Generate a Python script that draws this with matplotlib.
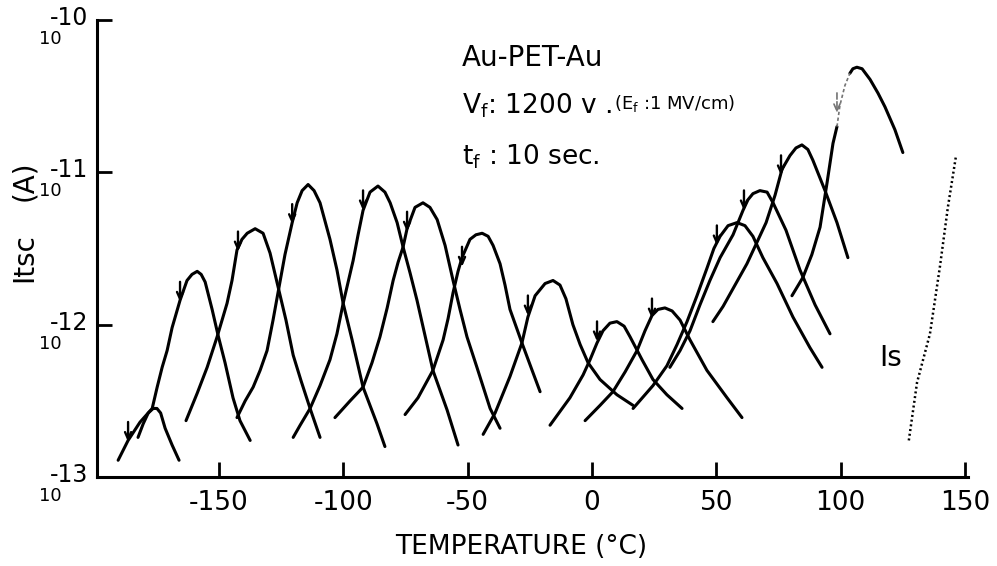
import matplotlib
matplotlib.use('Agg')
import matplotlib.pyplot as plt
import numpy as np
from matplotlib.ticker import NullLocator

# TSC peaks, Au-PET-Au, temperature (degC) and log10 of Itsc (A)
T_1 = [-182.6, -180.5, -178.5, -176.5, -175.0, -173.5, -171.7, -168.9, -166.1]
L_1 = [-12.74, -12.65, -12.58, -12.55, -12.55, -12.58, -12.68, -12.79, -12.89]

T_2 = [-190.6, -186.6, -181.8, -176.9, -174.9, -172.9, -170.9, -168.9, -165.7, -162.9,
       -160.9, -158.8, -157.2, -155.6, -152.8, -150.4, -147.6, -144.4, -141.6, -137.5]
L_2 = [-12.89, -12.76, -12.64, -12.55, -12.41, -12.28, -12.17, -12.02, -11.84, -11.71,
       -11.67, -11.65, -11.67, -11.72, -11.90, -12.07, -12.25, -12.48, -12.63, -12.76]

T_3 = [-163.3, -158.8, -154.8, -150.8, -146.8, -144.8, -142.8, -140.8, -138.7, -135.5,
       -132.3, -129.5, -126.3, -123.1, -120.2, -117.0, -113.4, -109.4]
L_3 = [-12.63, -12.45, -12.28, -12.08, -11.86, -11.71, -11.51, -11.44, -11.40, -11.37,
       -11.40, -11.53, -11.75, -11.97, -12.20, -12.37, -12.55, -12.74]

T_4 = [-142.8, -139.5, -136.3, -133.5, -130.7, -128.3, -126.3, -123.5, -120.6, -118.6, -116.6,
       -114.2, -111.8, -109.4, -105.4, -102.6, -100.1, -96.5, -92.1, -86.5, -83.3]
L_4 = [-12.61, -12.50, -12.41, -12.30, -12.17, -11.97, -11.79, -11.54, -11.33, -11.20, -11.12,
       -11.08, -11.12, -11.20, -11.44, -11.64, -11.86, -12.10, -12.41, -12.65, -12.80]

T_5 = [-120.2, -117.4, -113.4, -109.4, -105.4, -102.6, -100.1, -96.1, -94.1, -92.1, -89.3,
       -86.1, -83.3, -81.2, -78.4, -76.0, -73.2, -70.4, -67.2, -64.0, -58.3, -53.9]
L_5 = [-12.74, -12.66, -12.55, -12.40, -12.23, -12.06, -11.86, -11.58, -11.41, -11.25, -11.13,
       -11.09, -11.13, -11.20, -11.33, -11.49, -11.66, -11.84, -12.07, -12.30, -12.56, -12.79]

T_6 = [-103.4, -97.3, -92.1, -88.5, -85.3, -82.4, -80.0, -78.0, -76.0, -74.4, -71.2,
       -68.0, -65.2, -62.3, -59.1, -55.9, -53.1, -50.3, -46.3, -41.0, -37.0]
L_6 = [-12.61, -12.50, -12.41, -12.25, -12.08, -11.89, -11.71, -11.59, -11.49, -11.37, -11.23,
       -11.20, -11.23, -11.31, -11.48, -11.71, -11.90, -12.08, -12.28, -12.55, -12.68]

T_7 = [-75.2, -70.0, -64.0, -59.9, -57.9, -55.9, -53.9, -52.3, -49.1, -46.7,
       -44.2, -41.8, -39.8, -37.0, -35.0, -33.0, -28.2, -24.1, -20.9]
L_7 = [-12.59, -12.48, -12.30, -12.10, -11.96, -11.79, -11.65, -11.56, -11.44, -11.41,
       -11.40, -11.42, -11.48, -11.60, -11.74, -11.90, -12.12, -12.30, -12.44]

T_8 = [-43.8, -39.0, -33.0, -28.2, -25.8, -22.9, -18.9, -15.7, -12.9, -10.5,
       -7.7, -4.8, -1.6, 3.2, 10.0, 16.5]
L_8 = [-12.72, -12.58, -12.34, -12.12, -11.95, -11.81, -11.73, -11.71, -11.74, -11.83,
       -12.00, -12.13, -12.25, -12.36, -12.46, -12.53]

T_9 = [-16.9, -8.9, -3.6, -0.8, 2.0, 4.4, 7.2, 10.0, 12.9, 15.3, 20.1, 24.5, 30.1, 36.2]
L_9 = [-12.66, -12.48, -12.33, -12.23, -12.12, -12.04, -11.99, -11.98, -12.01, -12.08,
       -12.23, -12.36, -12.46, -12.55]

T_10 = [-2.8, 3.2, 8.4, 13.3, 18.1, 21.3, 24.1, 26.5, 29.3, 32.2, 35.4, 39.4, 46.2, 54.3, 60.3]
L_10 = [-12.63, -12.53, -12.44, -12.31, -12.17, -12.04, -11.94, -11.90, -11.89, -11.91,
        -11.97, -12.10, -12.30, -12.48, -12.61]

T_11 = [16.5, 24.5, 30.1, 34.2, 38.2, 42.2, 46.2, 49.0, 51.5, 54.7, 58.3, 61.5, 64.7,
        68.7, 74.4, 80.8, 87.6, 92.5]
L_11 = [-12.55, -12.40, -12.27, -12.13, -11.98, -11.81, -11.63, -11.50, -11.42, -11.35, -11.33,
        -11.35, -11.42, -11.56, -11.73, -11.95, -12.15, -12.28]

T_12 = [31.3, 35.4, 39.4, 43.4, 47.4, 51.5, 56.7, 60.7, 62.7, 64.7, 67.5, 70.4, 72.8,
        78.0, 83.6, 89.7, 95.7]
L_12 = [-12.28, -12.17, -12.04, -11.87, -11.71, -11.56, -11.41, -11.25, -11.18, -11.14, -11.12,
        -11.13, -11.20, -11.38, -11.64, -11.87, -12.06]

T_13 = [48.6, 52.7, 57.5, 62.3, 66.3, 70.0, 73.6, 76.4, 79.6, 82.0, 84.4, 86.8, 88.8,
        93.7, 98.5, 102.9]
L_13 = [-11.98, -11.88, -11.74, -11.60, -11.46, -11.33, -11.15, -10.98, -10.89, -10.84, -10.82,
        -10.85, -10.92, -11.12, -11.33, -11.56]

# last peak: solid rise, faint dashed part, solid top
T_14a = [80.4, 84.8, 88.4, 91.7, 94.5, 96.9, 98.5]
L_14a = [-11.81, -11.69, -11.54, -11.36, -11.07, -10.81, -10.70]
T_14b = [98.5, 99.7, 101.7, 103.7]
L_14b = [-10.70, -10.56, -10.43, -10.35]
T_14c = [103.7, 104.9, 106.5, 108.6, 111.8, 115.0, 117.8, 121.8, 125.0]
L_14c = [-10.35, -10.32, -10.31, -10.32, -10.39, -10.48, -10.57, -10.72, -10.87]

# saturation current Is (dotted)
T_is = [127.4, 130.7, 135.9, 139.9, 143.1, 146.3]
L_is = [-12.76, -12.38, -12.06, -11.62, -11.23, -10.90]

# polarization temperature arrows (tip on the curve)
arrow_T = [-186.6, -165.7, -142.4, -120.6, -92.1, -74.4, -52.3, -25.8, 2.0, 24.1, 50.2, 61.1, 76.0]
arrow_L = [-12.77, -11.85, -11.52, -11.34, -11.25, -11.39, -11.62, -11.94, -12.11, -11.96,
           -11.48, -11.25, -11.02]
arrow14_T = 98.5
arrow14_L = -10.61

x_ticks = [-150, -100, -50, 0, 50, 100, 150]
x_ticklabels = ['-150', '-100', '-50', '0', '50', '100', '150']
y_decades = [-13, -12, -11, -10]

W, H = 997, 566
fig = plt.figure(figsize=(W / 100, H / 100), dpi=100)
ax = fig.add_axes([97 / W, 1 - 477 / H, (968 - 97) / W, (477 - 20) / H])

curves = [(T_1, L_1), (T_2, L_2), (T_3, L_3), (T_4, L_4), (T_5, L_5), (T_6, L_6), (T_7, L_7),
          (T_8, L_8), (T_9, L_9), (T_10, L_10), (T_11, L_11), (T_12, L_12), (T_13, L_13),
          (T_14a, L_14a), (T_14c, L_14c)]
for T, L in curves:
    ax.plot(T, 10 ** np.array(L), color='black', lw=2.2,
            solid_capstyle='round', solid_joinstyle='round')

ax.plot(T_14b, 10 ** np.array(L_14b), color='0.45', lw=1.2, ls=(0, (2, 1.5)))
ax.plot(T_is, 10 ** np.array(L_is), color='black', lw=1.8, ls=(0, (0.8, 1.1)))

for t, l in zip(arrow_T, arrow_L):
    ax.annotate('', xy=(t, 10 ** l), xytext=(0, 20), textcoords='offset pixels',
                arrowprops=dict(arrowstyle='->,head_length=0.5,head_width=0.22',
                                lw=1.7, color='black', shrinkA=0, shrinkB=0))
ax.annotate('', xy=(arrow14_T, 10 ** arrow14_L), xytext=(0, 20), textcoords='offset pixels',
            arrowprops=dict(arrowstyle='->,head_length=0.5,head_width=0.22',
                            lw=1.2, ls='--', color='0.45', shrinkA=0, shrinkB=0))

ax.set_yscale('log')
ax.set_xlim(-199.1, 151.2)
ax.set_ylim(1e-13, 1e-10)
for s in ['top', 'right']:
    ax.spines[s].set_visible(False)
for s in ['left', 'bottom']:
    ax.spines[s].set_linewidth(2.2)

ax.set_xticks(x_ticks)
ax.set_xticklabels(x_ticklabels, fontsize=19)
ax.set_yticks([10.0 ** d for d in y_decades])
ax.set_yticklabels([])
ax.yaxis.set_minor_locator(NullLocator())
ax.tick_params(direction='in', length=11, width=2.0, pad=9)

# hand-lettered style decade labels: small "10", larger exponent
for d in y_decades:
    ax.annotate('-%d' % abs(d), xy=(0, 10.0 ** d), xycoords=('axes fraction', 'data'),
                xytext=(-9, 2), textcoords='offset pixels', ha='right', va='center',
                fontsize=17)
    ax.annotate('10', xy=(0, 10.0 ** d), xycoords=('axes fraction', 'data'),
                xytext=(-35, -19), textcoords='offset pixels', ha='right', va='center',
                fontsize=13)

fig.text(521 / W, 1 - 547 / H, 'TEMPERATURE (°C)', ha='center', va='center', fontsize=19)
fig.text(24 / W, 1 - 258 / H, 'Itsc', rotation=90, ha='center', va='center', fontsize=20)
fig.text(24 / W, 1 - 181 / H, '(A)', rotation=90, ha='center', va='center', fontsize=20)

fig.text(462 / W, 1 - 58 / H, 'Au-PET-Au', ha='left', va='center', fontsize=20)
fig.text(462 / W, 1 - 106 / H, r'V$_\mathregular{f}$: 1200 v .', ha='left', va='center', fontsize=19)
fig.text(614 / W, 1 - 104 / H, r'(E$_\mathregular{f}$ :1 MV/cm)', ha='left', va='center', fontsize=13)
fig.text(462 / W, 1 - 157 / H, r't$_\mathregular{f}$ : 10 sec.', ha='left', va='center', fontsize=19)
fig.text(891 / W, 1 - 358 / H, 'Is', ha='center', va='center', fontsize=20)

fig.savefig('out.png', dpi=100)
